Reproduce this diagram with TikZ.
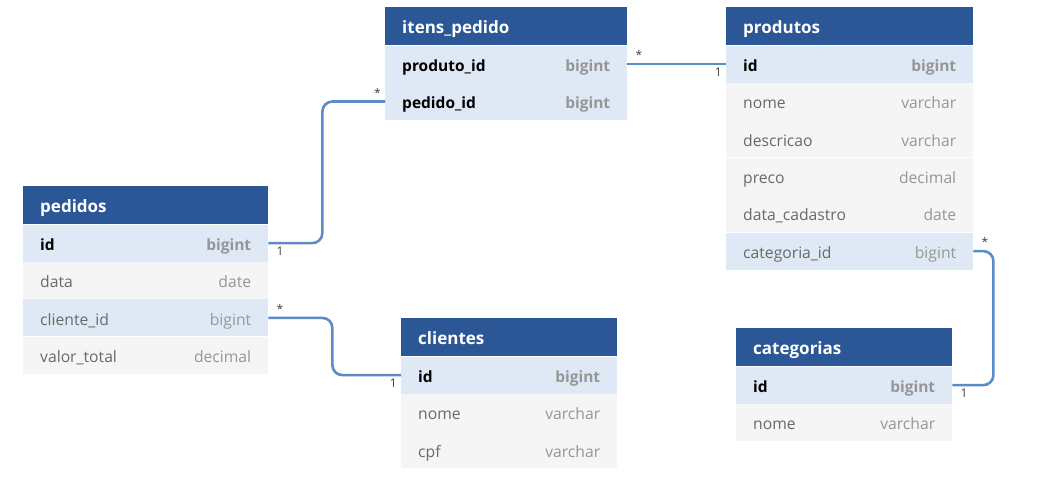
\documentclass[tikz,border=0pt]{standalone}
\usepackage{fontspec}
\setmainfont{Open Sans}
\usetikzlibrary{positioning}

\definecolor{azulcab}{RGB}{43,87,151}
\definecolor{azulchave}{RGB}{222,233,245}
\definecolor{cinzalinha}{RGB}{245,245,245}
\definecolor{azullinha}{RGB}{92,140,200}
\definecolor{cinzanome}{RGB}{105,105,105}
\definecolor{cinzatipo}{RGB}{150,150,150}

\tikzset{
  campo/.style={rectangle, inner xsep=17pt, inner ysep=0pt, minimum height=37pt,
    text height=14.5pt, text depth=0pt,
    font=\fontsize{15.7}{18}\selectfont, text=cinzanome, fill=cinzalinha},
  cab/.style={campo, minimum height=38pt, fill=azulcab, text=white,
    font=\bfseries\fontsize{17}{20}\selectfont},
  chave/.style={campo, fill=azulchave, text=black, font=\bfseries\fontsize{15.5}{18}\selectfont},
  fk/.style={campo, fill=azulchave},
  rel/.style={azullinha, line width=2.6pt, rounded corners=10pt},
  card/.style={font=\fontsize{12}{13}\selectfont, text=black!75, inner sep=3pt}
}
\newcommand{\tipo}[1]{\hfill\textcolor{cinzatipo}{#1}}

\begin{document}
\begin{tikzpicture}[x=1pt, y=-1pt]
  \useasboundingbox (0,0) rectangle (1063,480);

  % 表 itens_pedido
  \begin{scope}[every node/.append style={text width=208pt}]
    \node[cab, anchor=north west] (ipH) at (385,7) {itens\_pedido};
    \node[chave, below=0pt of ipH] (ip1) {produto\_id\tipo{bigint}};
    \node[chave, below=0pt of ip1] (ip2) {pedido\_id\tipo{bigint}};
  \end{scope}

  % 表 produtos
  \begin{scope}[every node/.append style={text width=213pt}]
    \node[cab, anchor=north west] (prH) at (726,7) {produtos};
    \node[chave, below=0pt of prH] (pr1) {id\tipo{bigint}};
    \node[campo, below=0pt of pr1] (pr2) {nome\tipo{varchar}};
    \node[campo, below=0pt of pr2] (pr3) {descricao\tipo{varchar}};
    \node[campo, below=0pt of pr3] (pr4) {preco\tipo{decimal}};
    \node[campo, below=0pt of pr4] (pr5) {data\_cadastro\tipo{date}};
    \node[fk, below=0pt of pr5] (pr6) {categoria\_id\tipo{bigint}};
  \end{scope}

  % 表 pedidos
  \begin{scope}[every node/.append style={text width=211pt}]
    \node[cab, anchor=north west] (peH) at (23,186) {pedidos};
    \node[chave, below=0pt of peH] (pe1) {id\tipo{bigint}};
    \node[campo, below=0pt of pe1] (pe2) {data\tipo{date}};
    \node[fk, below=0pt of pe2] (pe3) {cliente\_id\tipo{bigint}};
    \node[campo, below=0pt of pe3] (pe4) {valor\_total\tipo{decimal}};
  \end{scope}

  % 表 clientes
  \begin{scope}[every node/.append style={text width=182pt}]
    \node[cab, anchor=north west] (clH) at (401,318) {clientes};
    \node[chave, below=0pt of clH] (cl1) {id\tipo{bigint}};
    \node[campo, below=0pt of cl1] (cl2) {nome\tipo{varchar}};
    \node[campo, below=0pt of cl2] (cl3) {cpf\tipo{varchar}};
  \end{scope}

  % 表 categorias
  \begin{scope}[every node/.append style={text width=182pt}]
    \node[cab, anchor=north west] (caH) at (736,328) {categorias};
    \node[chave, below=0pt of caH] (ca1) {id\tipo{bigint}};
    \node[campo, below=0pt of ca1] (ca2) {nome\tipo{varchar}};
  \end{scope}

  % 关系线
  \draw[rel] (ip1.east) node[card, above right, xshift=4pt] {*}
    -- (pr1.west) node[card, below left] {1};
  \draw[rel] (pe1.east) node[card, below right, xshift=4pt] {1}
    -- ++(54,0) |- (ip2.west) node[card, above left] {*};
  \draw[rel] (pe3.east) node[card, above right, xshift=4pt] {*}
    -- ++(64,0) |- (cl1.west) node[card, below left] {1};
  \draw[rel] (pr6.east) node[card, above right, xshift=4pt] {*}
    -- ++(20,0) |- (ca1.east) node[card, below right, xshift=4pt] {1};
\end{tikzpicture}
\end{document}
